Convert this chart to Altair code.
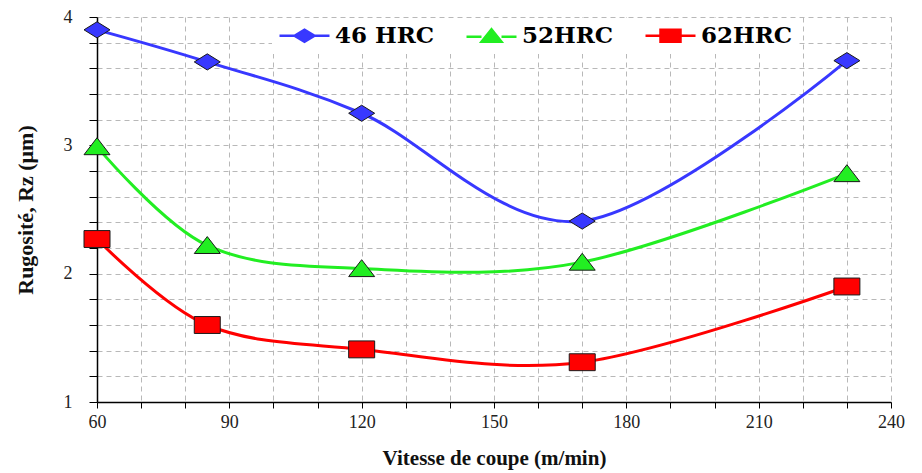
import altair as alt
import pandas as pd

# ---- data ----
speeds = [60, 85, 120, 170, 230]
series = ["46 HRC", "52HRC", "62HRC"]
rz_46 = [3.90, 3.65, 3.25, 2.41, 3.66]
rz_52 = [2.99, 2.22, 2.04, 2.09, 2.78]
rz_62 = [2.27, 1.60, 1.41, 1.31, 1.90]
colors = ["#3838ff", "#22ee22", "#ff0000"]

x_ticks = [60, 70, 80, 90, 100, 110, 120, 130, 140, 150, 160, 170, 180,
           190, 200, 210, 220, 230, 240]
y_ticks = [1.0, 1.2, 1.4, 1.6, 1.8, 2.0, 2.2, 2.4, 2.6, 2.8, 3.0, 3.2,
           3.4, 3.6, 3.8, 4.0]

rows = []
for name, vals in zip(series, [rz_46, rz_52, rz_62]):
    for s, v in zip(speeds, vals):
        rows.append({"speed": s, "rz": v, "series": name})
df = pd.DataFrame(rows)

# marker shapes (slightly flattened, as in the reference)
point_shapes = [
    "M-1,0L0,-0.62L1,0L0,0.62Z",
    "M0,-0.68L1,0.62L-1,0.62Z",
    "M-1,-0.65H1V0.65H-1Z",
]
legend_shapes = [
    "M-2.5,0H-1M-1,0L0,-0.6L1,0L0,0.6ZM1,0H2.5",
    "M-2.5,0.1H-1M0,-0.65L1,0.6L-1,0.6ZM1,0.1H2.5",
    "M-2.5,0H-1M-1,-0.6H1V0.6H-1ZM1,0H2.5",
]

serif = "Liberation Serif"

x_enc = alt.X(
    "speed:Q",
    scale=alt.Scale(domain=[60, 240], nice=False, zero=False),
    axis=alt.Axis(
        values=x_ticks,
        labelExpr="datum.value % 30 == 0 ? datum.label : ''",
        title="Vitesse de coupe (m/min)",
        grid=True, gridDash=[5, 4], gridColor="#b8b8b8", gridWidth=1,
        domainColor="black", domainWidth=1.5,
        tickColor="black", tickSize=6, tickWidth=1,
        labelFont=serif, labelFontSize=18, labelColor="#222222",
        labelPadding=5, labelFlush=False,
        titleFont=serif, titleFontSize=21, titleFontWeight="bold",
        titleColor="#111111", titlePadding=16,
    ),
)
y_enc = alt.Y(
    "rz:Q",
    scale=alt.Scale(domain=[1, 4], nice=False, zero=False),
    axis=alt.Axis(
        values=y_ticks,
        labelExpr="abs(datum.value - round(datum.value)) < 0.001 ? format(datum.value, 'd') : ''",
        title="Rugosité, Rz (μm)",
        grid=True, gridDash=[5, 4], gridColor="#b8b8b8", gridWidth=1,
        domainColor="black", domainWidth=1.5,
        tickColor="black", tickSize=8, tickWidth=1,
        labelFont=serif, labelFontSize=18, labelColor="#222222",
        labelPadding=17, labelFlush=False,
        titleFont=serif, titleFontSize=22, titleFontWeight="bold",
        titleColor="#111111", titlePadding=26,
    ),
)

stroke_scale = alt.Scale(domain=series, range=colors)
fill_scale = alt.Scale(domain=series, range=colors)

leg = alt.Legend(
    orient="none", legendX=175, legendY=1, direction="horizontal",
    title=None, labelFont="DejaVu Serif", labelFontWeight="bold",
    labelFontSize=23, labelColor="black", symbolSize=400,
    symbolStrokeWidth=2.5, symbolOffset=15, labelOffset=19,
    columnPadding=26, fillColor="white", padding=6,
)

base = alt.Chart(df)

lines = base.mark_line(interpolate="cardinal", strokeWidth=3).encode(
    x=x_enc, y=y_enc,
    stroke=alt.Stroke("series:N", scale=stroke_scale, legend=leg),
)

point_layers = []
for name, path in zip(series, point_shapes):
    point_layers.append(
        base.transform_filter(alt.datum.series == name)
        .mark_point(opacity=1, size=676, shape=path, stroke="#1a1a1a",
                    strokeWidth=1)
        .encode(
            x=x_enc, y=y_enc,
            fill=alt.Fill("series:N", scale=fill_scale, legend=leg),
        )
    )

legend_layer = base.transform_filter("false").mark_point(
    opacity=1, size=400, strokeWidth=2.5).encode(
    x=x_enc, y=y_enc,
    shape=alt.Shape("series:N", scale=alt.Scale(domain=series, range=legend_shapes),
                    legend=leg),
    fill=alt.Fill("series:N", scale=fill_scale, legend=leg),
    stroke=alt.Stroke("series:N", scale=stroke_scale, legend=leg),
)

chart = (
    alt.layer(lines, *point_layers, legend_layer)
    .properties(
        width=794, height=385,
        autosize=alt.AutoSizeParams(type="none"),
        padding={"left": 89, "top": 9, "right": 23, "bottom": 70},
        background="white",
    )
    .configure_view(stroke=None)
)

chart.save("out.html", embed_options={"renderer": "svg", "actions": False})
